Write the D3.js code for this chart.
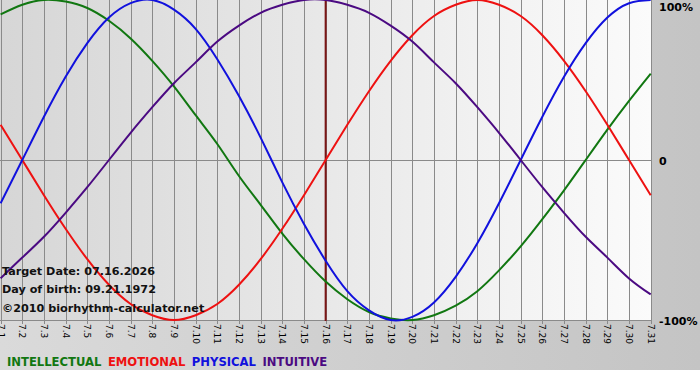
<!DOCTYPE html>
<html>
<head>
<meta charset="utf-8">
<script src="https://cdn.jsdelivr.net/npm/d3@7"></script>
<style>
	body { margin: 0; background: #fff; }
	svg { display: block; font-family: 'DejaVu Sans', Verdana, sans-serif; }
</style>
</head>
<body>
<div id="chart"></div>
<script>
// NOTE day labels for July
var days = ['7.1', '7.2', '7.3', '7.4', '7.5', '7.6', '7.7', '7.8', '7.9', '7.10',
	'7.11', '7.12', '7.13', '7.14', '7.15', '7.16', '7.17', '7.18', '7.19', '7.20',
	'7.21', '7.22', '7.23', '7.24', '7.25', '7.26', '7.27', '7.28', '7.29', '7.30', '7.31'];

var physical = [-0.27, 0, 0.27, 0.52, 0.73, 0.89, 0.98, 1.0, 0.94, 0.82, 0.63,
	0.4, 0.14, -0.14, -0.4, -0.63, -0.82, -0.94, -1.0, -0.98, -0.89,
	-0.73, -0.52, -0.27, 0, 0.27, 0.52, 0.73, 0.89, 0.98, 1.0];

var emotional = [0.22, 0, -0.22, -0.43, -0.62, -0.78, -0.9, -0.97, -1.0, -0.97, -0.9,
	-0.78, -0.62, -0.43, -0.22, 0, 0.22, 0.43, 0.62, 0.78, 0.9,
	0.97, 1.0, 0.97, 0.9, 0.78, 0.62, 0.43, 0.22, 0, -0.22];

var intellectual = [0.91, 0.97, 1.0, 0.99, 0.95, 0.87, 0.76, 0.62, 0.46, 0.28, 0.1,
	-0.1, -0.28, -0.46, -0.62, -0.76, -0.87, -0.95, -0.99, -1.0, -0.97,
	-0.91, -0.82, -0.69, -0.54, -0.37, -0.19, 0, 0.19, 0.37, 0.54];

var intuitive = [-0.74, -0.61, -0.48, -0.33, -0.17, 0, 0.17, 0.33, 0.48, 0.61, 0.74,
	0.84, 0.92, 0.97, 1.0, 1.0, 0.97, 0.92, 0.84, 0.74, 0.61,
	0.48, 0.33, 0.17, 0, -0.17, -0.33, -0.48, -0.61, -0.74, -0.84];

var targetIndex = 15;
var yTicks = [1, 0, -1];
var yTickLabels = ['100%', '0', '-100%'];
var infoLines = ['Target Date: 07.16.2026', 'Day of birth: 09.21.1972', '\u00a92010 biorhythm-calculator.net'];

var series = [
	{ name: 'INTELLECTUAL', color: '#117711', values: intellectual },
	{ name: 'EMOTIONAL', color: '#ee1111', values: emotional },
	{ name: 'PHYSICAL', color: '#1111dd', values: physical },
	{ name: 'INTUITIVE', color: '#4b0a82', values: intuitive }
];

var W = 700, H = 380;
var plotW = 651, plotH = 321;

var svg = d3.select('#chart').append('svg').attr('width', W).attr('height', H);

var defs = svg.append('defs');
var outerGrad = defs.append('linearGradient').attr('id', 'outerGrad');
outerGrad.append('stop').attr('offset', '0%').attr('stop-color', '#dadada');
outerGrad.append('stop').attr('offset', '100%').attr('stop-color', '#c4c4c4');
var plotGrad = defs.append('linearGradient').attr('id', 'plotGrad');
plotGrad.append('stop').attr('offset', '0%').attr('stop-color', '#d6d6d6');
plotGrad.append('stop').attr('offset', '100%').attr('stop-color', '#fbfbfb');

svg.append('rect').attr('width', W).attr('height', 370).attr('fill', 'url(#outerGrad)');
svg.append('rect').attr('width', plotW).attr('height', plotH).attr('fill', 'url(#plotGrad)');

var x = d3.scaleLinear().domain([0, days.length - 1]).range([0.6, 650.7]);
var y = d3.scaleLinear().domain([-1, 1]).range([320, 0]);

// grid lines + ticks
svg.append('g')
	.selectAll('line')
	.data(days)
	.enter()
	.append('line')
	.attr('x1', function (d, i) { return Math.round(x(i)) + 0.5; })
	.attr('x2', function (d, i) { return Math.round(x(i)) + 0.5; })
	.attr('y1', 0)
	.attr('y2', plotH + 3)
	.attr('stroke', '#8a8a8a')
	.attr('stroke-width', 1);

svg.append('line')
	.attr('x1', 0).attr('x2', plotW)
	.attr('y1', Math.round(y(0)) + 0.5).attr('y2', Math.round(y(0)) + 0.5)
	.attr('stroke', '#8a8a8a');

svg.append('line')
	.attr('x1', 0).attr('x2', plotW)
	.attr('y1', plotH - 0.5).attr('y2', plotH - 0.5)
	.attr('stroke', '#8a8a8a');

// day labels rotated
svg.append('g')
	.selectAll('text')
	.data(days)
	.enter()
	.append('text')
	.attr('transform', function (d, i) {
		return 'translate(' + (Math.round(x(i)) + 0.5) + ',' + (plotH + 3) + ') rotate(90)';
	})
	.attr('dy', '0.35em')
	.attr('font-size', 9)
	.attr('fill', '#000')
	.text(function (d) { return d; });

// target day line
svg.append('line')
	.attr('x1', x(targetIndex)).attr('x2', x(targetIndex))
	.attr('y1', 0).attr('y2', plotH)
	.attr('stroke', '#7a1515')
	.attr('stroke-width', 2);

var line = d3.line()
	.x(function (d, i) { return x(i); })
	.y(function (d) { return y(d); })
	.curve(d3.curveNatural);

svg.append('g')
	.selectAll('path')
	.data(series)
	.enter()
	.append('path')
	.attr('d', function (d) { return line(d.values); })
	.attr('fill', 'none')
	.attr('stroke', function (d) { return d.color; })
	.attr('stroke-width', 2);

// right labels
svg.append('g')
	.selectAll('text')
	.data(yTicks)
	.enter()
	.append('text')
	.attr('x', 659)
	.attr('y', function (d) { return Math.max(y(d), 6) + 1; })
	.attr('dy', '0.35em')
	.attr('font-size', 11)
	.attr('font-weight', 'bold')
	.text(function (d, i) { return yTickLabels[i]; });

// info text
svg.append('g')
	.selectAll('text')
	.data(infoLines)
	.enter()
	.append('text')
	.attr('x', 2)
	.attr('y', function (d, i) { return 275 + i * 18 + (i == 2 ? 1 : 0); })
	.attr('font-size', 11.2)
	.attr('font-weight', 'bold')
	.attr('fill', '#111')
	.text(function (d) { return d; });

// legend
var lx = 7;
var legend = svg.append('g');
series.forEach(function (s) {
	var t = legend.append('text')
		.attr('x', lx)
		.attr('y', 366)
		.attr('font-size', 11.6)
		.attr('font-weight', 'bold')
		.attr('fill', s.color)
		.text(s.name);
	lx += t.node().getComputedTextLength() + 6.5;
});
</script>
</body>
</html>
